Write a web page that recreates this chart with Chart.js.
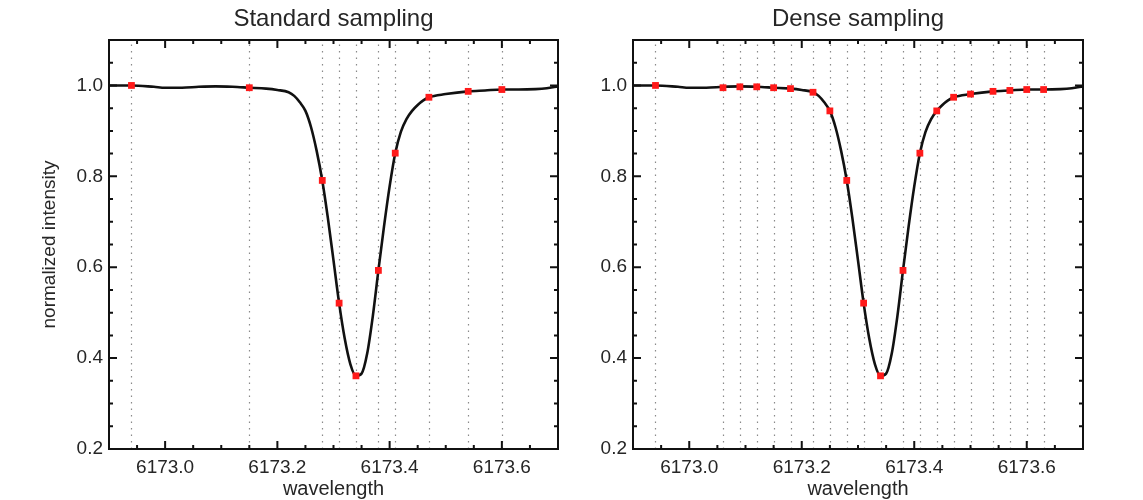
<!DOCTYPE html>
<html><head><meta charset="utf-8">
<script src="https://cdn.jsdelivr.net/npm/chart.js@4/dist/chart.umd.min.js"></script>
<style>
html,body{margin:0;padding:0;background:#fff;width:1143px;height:500px;overflow:hidden}
canvas{position:absolute;top:0}
#c1{left:0}
#c2{left:571px}
</style></head><body>
<canvas id="c1" width="571" height="500"></canvas>
<canvas id="c2" width="572" height="500"></canvas>
<script>
// ---- data ----
const panelTitles = ["Standard sampling", "Dense sampling"];
const xTickValues = [6173.0, 6173.2, 6173.4, 6173.6];
const yTickValues = [0.2, 0.4, 0.6, 0.8, 1.0];

// continuous line profile (wavelength, normalized intensity)
const profileWavelength = [
  6172.90, 6172.94, 6172.98, 6173.00, 6173.03, 6173.06, 6173.09, 6173.12, 6173.15, 6173.18,
  6173.20, 6173.22, 6173.23, 6173.24, 6173.25, 6173.26, 6173.27, 6173.28, 6173.29, 6173.30,
  6173.31, 6173.32, 6173.33, 6173.34, 6173.35, 6173.36, 6173.37, 6173.38, 6173.39, 6173.40,
  6173.41, 6173.42, 6173.43, 6173.44, 6173.45, 6173.46, 6173.47, 6173.50, 6173.54, 6173.57,
  6173.60, 6173.63, 6173.66, 6173.68, 6173.70
];
const profileIntensity = [
  1.000, 1.000, 0.997, 0.995, 0.995, 0.997, 0.998, 0.997, 0.995, 0.993,
  0.990, 0.985, 0.977, 0.963, 0.944, 0.908, 0.856, 0.791, 0.708, 0.615,
  0.521, 0.443, 0.387, 0.361, 0.366, 0.410, 0.492, 0.593, 0.690, 0.778,
  0.851, 0.898, 0.926, 0.944, 0.957, 0.967, 0.974, 0.981, 0.987, 0.989,
  0.991, 0.991, 0.992, 0.994, 0.998
];

// standard sampling positions
const standardWavelength = [6172.94, 6173.15, 6173.28, 6173.31, 6173.34, 6173.38, 6173.41, 6173.47, 6173.54, 6173.60];
const standardIntensity  = [1.000, 0.995, 0.791, 0.521, 0.361, 0.593, 0.851, 0.974, 0.987, 0.991];

// dense sampling positions
const denseWavelength = [6172.94, 6173.06, 6173.09, 6173.12, 6173.15, 6173.18, 6173.22, 6173.25, 6173.28, 6173.31,
                         6173.34, 6173.38, 6173.41, 6173.44, 6173.47, 6173.50, 6173.54, 6173.57, 6173.60, 6173.63];
const denseIntensity  = [1.000, 0.995, 0.997, 0.997, 0.995, 0.993, 0.985, 0.944, 0.791, 0.521,
                         0.361, 0.593, 0.851, 0.944, 0.974, 0.981, 0.987, 0.989, 0.991, 0.991];

// ---- styling / layout ----
const FONT = "'Liberation Sans', Arial, Helvetica, sans-serif";
const TEXT = "#262626";
const X_MIN = 6172.9, X_MAX = 6173.7, Y_MIN = 0.2, Y_MAX = 1.1;

const panelPlugin = {
  id: 'panelDecor',
  beforeDatasetsDraw(chart, args, opts) {
    const {ctx, chartArea: a, scales: {x}} = chart;
    ctx.save();
    ctx.strokeStyle = '#8a8a8a';
    ctx.lineWidth = 1.2;
    ctx.setLineDash([1.6, 4.9]);
    opts.samples.forEach(w => {
      const px = Math.round(x.getPixelForValue(w)) + 0.5;
      ctx.beginPath();
      ctx.moveTo(px, a.bottom);
      ctx.lineTo(px, a.top);
      ctx.stroke();
    });
    ctx.restore();
  },
  afterDraw(chart, args, opts) {
    const {ctx, chartArea: a, scales: {x, y}} = chart;
    ctx.save();
    ctx.strokeStyle = '#111';
    ctx.lineWidth = 2;
    const xs = [];
    for (let k = 0; k <= 16; k++) xs.push(X_MIN + k * 0.05);
    xs.forEach(v => {
      const major = xTickValues.some(t => Math.abs(t - v) < 1e-6);
      const len = major ? 8 : 4;
      const px = x.getPixelForValue(v);
      if (px <= a.left + 1 || px >= a.right - 1) return;
      ctx.beginPath();
      ctx.moveTo(px, a.bottom); ctx.lineTo(px, a.bottom - len);
      ctx.moveTo(px, a.top); ctx.lineTo(px, a.top + len);
      ctx.stroke();
    });
    const ys = [];
    for (let k = 0; k <= 18; k++) ys.push(Y_MIN + k * 0.05);
    ys.forEach(v => {
      const major = yTickValues.some(t => Math.abs(t - v) < 1e-6);
      const len = major ? 8 : 4;
      const py = y.getPixelForValue(v);
      if (py <= a.top + 1 || py >= a.bottom - 1) return;
      ctx.beginPath();
      ctx.moveTo(a.left, py); ctx.lineTo(a.left + len, py);
      ctx.moveTo(a.right, py); ctx.lineTo(a.right - len, py);
      ctx.stroke();
    });
    ctx.strokeRect(a.left, a.top, a.right - a.left, a.bottom - a.top);
    ctx.fillStyle = TEXT;
    ctx.font = "24px " + FONT;
    ctx.textAlign = 'center';
    ctx.textBaseline = 'middle';
    ctx.fillText(opts.title, (a.left + a.right) / 2, 19);
    ctx.restore();
  }
};

function makePanel(id, title, sw, si, showYTitle, yAxisWidth, rightPad) {
  const profile = profileWavelength.map((w, i) => ({x: w, y: profileIntensity[i]}));
  const samples = sw.map((w, i) => ({x: w, y: si[i]}));
  return new Chart(document.getElementById(id), {
    type: 'line',
    data: {
      datasets: [
        {data: samples, showLine: false, pointStyle: 'rect', pointRadius: 4.8,
         pointBackgroundColor: '#ff1a1a', pointBorderWidth: 0, borderColor: '#ff1a1a', order: 0},
        {data: profile, borderColor: '#111', borderWidth: 2.6, pointRadius: 0,
         cubicInterpolationMode: 'monotone', fill: false, order: 1}
      ]
    },
    options: {
      responsive: false, animation: false,
      layout: {padding: {top: 40, right: rightPad, left: 0, bottom: 0}},
      plugins: {legend: {display: false}, tooltip: {enabled: false},
                panelDecor: {samples: sw, title: title}},
      scales: {
        x: {
          type: 'linear', min: X_MIN, max: X_MAX,
          afterBuildTicks: s => { s.ticks = xTickValues.map(v => ({value: v})); },
          afterFit: s => { s.height = 51; },
          grid: {display: false, drawTicks: false}, border: {display: false},
          ticks: {callback: v => Number(v).toFixed(1), autoSkip: false, maxRotation: 0,
                  font: {family: FONT, size: 19}, color: TEXT, padding: 7},
          title: {display: true, text: 'wavelength', font: {family: FONT, size: 20},
                  color: TEXT, padding: {top: 0, bottom: -1}}
        },
        y: {
          type: 'linear', min: Y_MIN, max: Y_MAX,
          afterBuildTicks: s => { s.ticks = yTickValues.map(v => ({value: v})); },
          afterFit: s => { s.width = yAxisWidth; },
          grid: {display: false, drawTicks: false}, border: {display: false},
          ticks: {callback: v => Number(v).toFixed(1), font: {family: FONT, size: 19},
                  color: TEXT, padding: 6},
          title: {display: showYTitle, text: 'normalized intensity', font: {family: FONT, size: 19},
                  color: TEXT, padding: {top: 38, bottom: 0}}
        }
      }
    },
    plugins: [panelPlugin]
  });
}

makePanel('c1', panelTitles[0], standardWavelength, standardIntensity, true, 109, 13);
makePanel('c2', panelTitles[1], denseWavelength, denseIntensity, false, 62, 60);
</script>
</body></html>
